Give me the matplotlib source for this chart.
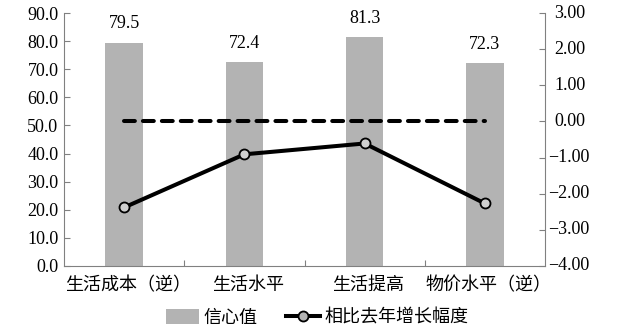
import matplotlib
matplotlib.use("Agg")
import matplotlib.pyplot as plt
from matplotlib.lines import Line2D
from matplotlib.patches import Patch
from matplotlib.transforms import blended_transform_factory, offset_copy

plt.rcParams['font.family'] = ['Liberation Serif', 'Noto Sans CJK SC', 'DejaVu Sans']

categories = ["生活成本（逆）", "生活水平", "生活提高", "物价水平（逆）"]
confidence = [79.5, 72.4, 81.3, 72.3]
growth = [-2.38, -0.91, -0.61, -2.27]
baseline = [0.0, 0.0, 0.0, 0.0]

left_ticks = [0, 10, 20, 30, 40, 50, 60, 70, 80, 90]
right_ticks = [3, 2, 1, 0, -1, -2, -3, -4]

num_size = 13
cjk_size = 13
cjk_family = ['Noto Sans CJK SC', 'Liberation Serif']

fig = plt.figure(figsize=(6.18, 3.33), dpi=100)
ax = fig.add_axes([64 / 618, 1 - 266 / 333, (545 - 64) / 618, (266 - 13) / 333])
ax2 = ax.twinx()

x = list(range(len(categories)))
bar_color = "#b3b3b3"
ax.bar(x, confidence, width=0.31, color=bar_color, zorder=1)
for xi, v in zip(x, confidence):
    ax.text(xi, v + 3.6, f"{v:.1f}", ha="center", va="bottom", fontsize=num_size)

ax.set_xlim(-0.5, 3.5)
ax.set_ylim(0, 90)
ax.set_yticks(left_ticks)
ax.set_yticklabels([f"{t:.1f}" for t in left_ticks], fontsize=num_size)
ax.set_xticks([0.5, 1.5, 2.5])
ax.set_xticklabels([])
ax.tick_params(axis="x", length=4, color="#808080", direction="in")
ax.tick_params(axis="y", length=4, color="#808080", direction="in", pad=4)
for xi, lab in zip(x, categories):
    ax.text(xi + 0.03, -3.5, lab, ha="center", va="top", fontsize=cjk_size, family=cjk_family)

lw = 2.9
ax2.plot(x, baseline, color="black", lw=lw, ls=(0, (2.7, 2.0)),
         dash_capstyle="round", zorder=3)
ax2.plot(x, growth, color="black", lw=lw, marker="o", ms=7.2,
         mfc="#cfcfcf", mec="black", mew=1.3, zorder=4)
ax2.set_ylim(-4, 3)
ax2.set_yticks(right_ticks)
ax2.set_yticklabels([])
ax2.tick_params(axis="y", length=4, color="#808080", direction="in")

# right-axis labels, left aligned with the sign hanging outside
tr = blended_transform_factory(ax2.transAxes, ax2.transData)
for t in right_ticks:
    dx = 3 if t < 0 else 9
    label = f"{t:.2f}".replace("-", "\u2212")
    ax2.text(1, t, label, transform=offset_copy(tr, fig=fig, x=dx, y=0, units="dots"),
             ha="left", va="center", fontsize=num_size)

for a in (ax, ax2):
    a.spines["top"].set_visible(False)
    for s in ("left", "right", "bottom"):
        a.spines[s].set_color("#808080")
ax.spines["right"].set_visible(False)
ax2.spines["left"].set_visible(False)
ax2.spines["bottom"].set_visible(False)

handles = [
    Patch(facecolor=bar_color, edgecolor="none"),
    Line2D([], [], color="black", lw=lw, marker="o", ms=7.2, mfc="#b3b3b3", mec="black", mew=1.3),
]
fig.legend(handles, ["信心值", "相比去年增长幅度"], loc="center",
           bbox_to_anchor=(317 / 618, 1 - 318 / 333),
           ncol=2, frameon=False, prop={"family": cjk_family, "size": cjk_size},
           handlelength=1.85, handleheight=0.9, handletextpad=0.25, columnspacing=1.6)

fig.savefig("out.png", dpi=100)
